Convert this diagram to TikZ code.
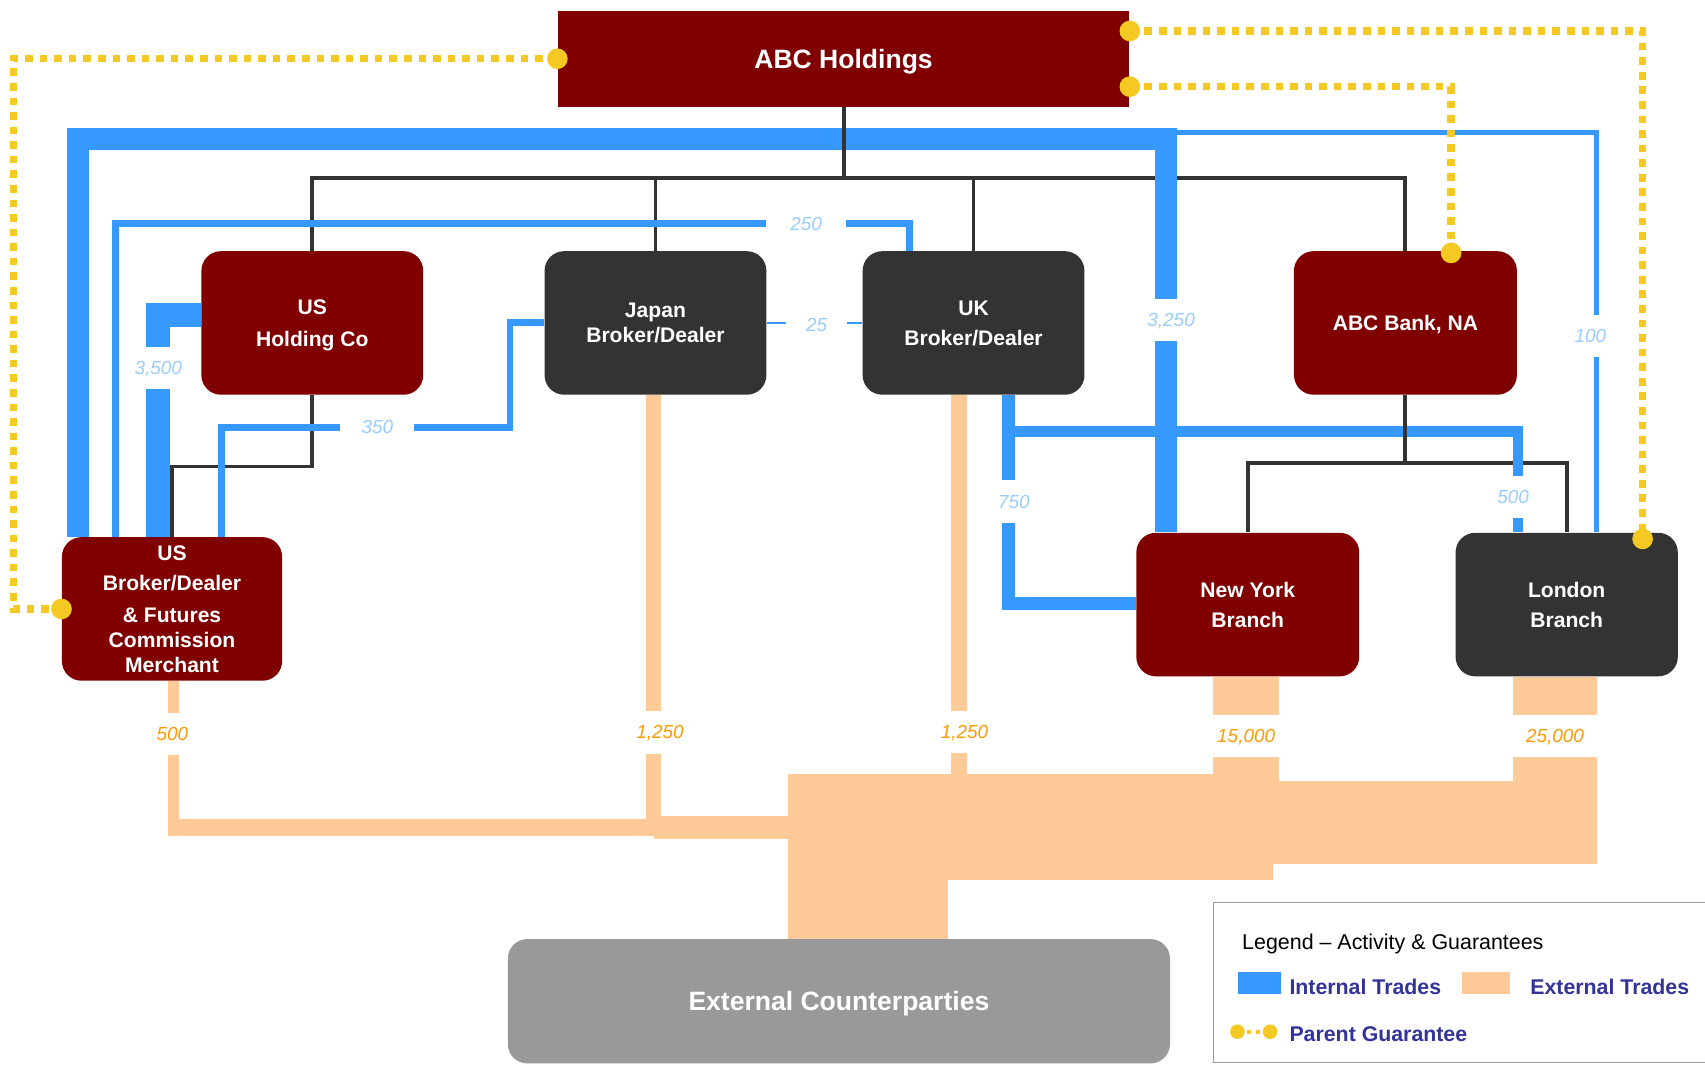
\documentclass[tikz,border=0pt]{standalone}
\usepackage{fontspec}
\setmainfont{Liberation Sans}
\usetikzlibrary{calc}
\pgfdeclarelayer{background}
\pgfsetlayers{background,main}

\definecolor{boxred}{RGB}{128,0,0}
\definecolor{boxgray}{RGB}{51,51,51}
\definecolor{extgray}{RGB}{153,153,153}
\definecolor{intblue}{RGB}{54,153,255}
\definecolor{extorange}{RGB}{254,203,152}
\definecolor{guaryellow}{RGB}{245,201,36}
\definecolor{labblue}{RGB}{153,204,255}
\definecolor{laborange}{RGB}{255,153,0}
\definecolor{legendtext}{RGB}{51,51,153}
\definecolor{treegray}{RGB}{51,51,51}

\begin{document}
\begin{tikzpicture}[x=0.5pt,y=-0.5pt,
  entity/.style={rounded corners=9pt, minimum width=102pt, minimum height=66pt,
    inner sep=0pt, align=center, text=white, text depth=0pt,
    font=\bfseries\fontsize{9.7}{11.5}\selectfont},
  redbox/.style={entity, fill=boxred},
  graybox/.style={entity, fill=boxgray},
  tree/.style={draw=treegray, line width=1.8pt},
  intl/.style={draw=intblue, line join=miter, line cap=butt},
  extl/.style={draw=extorange, line join=miter, line cap=butt},
  guar/.style={draw=guaryellow, line width=3.35pt, dash pattern=on 3.5pt off 3.2pt},
  gdot/.style={fill=guaryellow, circle, inner sep=0pt, minimum size=9.5pt},
  lab/.style={font=\itshape\fontsize{8.7}{10}\selectfont, fill=white, inner sep=0pt, text depth=0pt},
  labin/.style={lab, text=labblue},
  labex/.style={lab, text=laborange},
  vgap/.style={minimum height=19.5pt},
  legtxt/.style={anchor=base west, inner sep=0pt, text=legendtext,
    font=\bfseries\fontsize{9.8}{12}\selectfont},
]
\useasboundingbox (0,0) rectangle (1568,979);

% ---- entities ----
\node[redbox, minimum width=262.85pt, minimum height=44pt, rounded corners=0pt,
      font=\bfseries\fontsize{12.2}{14}\selectfont] (hold) at (775.8,54) {ABC Holdings};
\node[redbox] (ushc) at (287.2,297) {US\\[3pt]Holding Co};
\node[graybox] (jpbd) at (602.8,297) {Japan\\Broker/Dealer};
\node[graybox] (ukbd) at (895.3,297) {UK\\[2.3pt]Broker/Dealer};
\node[redbox, minimum width=102.5pt] (bank) at (1292.5,297) {ABC Bank, NA};
\node[redbox, minimum width=101.25pt] (usbd) at (158.2,560)
  {US\\[2.3pt]Broker/Dealer\\[3.1pt]\& Futures\\Commission\\Merchant};
\node[redbox, minimum width=102.5pt] (nyb) at (1147.5,556) {New York\\[2.4pt]Branch};
\node[graybox, minimum width=102.2pt] (ldn) at (1440.8,556) {London\\[2.2pt]Branch};
\node[entity, fill=extgray, minimum width=304.5pt, minimum height=57.2pt,
      font=\bfseries\fontsize{12.2}{14}\selectfont] (ext) at (771.5,920.8) {External Counterparties};

% guarantee end points
\coordinate (gHL) at (hold.west);
\coordinate (gHT) at (hold.east |- 0,28.5);
\coordinate (gHB) at (hold.east |- 0,79.7);
\coordinate (gUS) at (usbd.west);
\coordinate (gBK) at ($(bank.north -| 1334.5,0)+(0,2)$);
\coordinate (gLD) at ($(ldn.north -| 1510.6,0)+(0,6)$);

\begin{pgfonlayer}{background}
% ---- ownership tree ----
\coordinate (tbar) at (775.8,164);
\draw[tree] (ushc.north) |- (tbar) -| (bank.north);
\draw[tree] (jpbd.north) -- (jpbd.north |- tbar);
\draw[tree] (ukbd.north) -- (ukbd.north |- tbar);
\draw[tree] (ushc.south) -- ++(0,65.6) -| (usbd.north);
\coordinate (bbar) at (1292.5,426);
\draw[tree] (nyb.north) |- (bbar) -| (ldn.north);

% ---- internal trades ----
\draw[intl, line width=2.5pt] (72,0 |- usbd.north) -- (72,122) -- (1468,122) -- (1468,0 |- ldn.north);
\draw[intl, line width=10pt] (72,0 |- usbd.north) -- (72,128) -- (1072.3,128) -- (1072.3,0 |- nyb.north);
\draw[intl, line width=3.2pt] (106,0 |- usbd.north) -- (106,205.5) -- (836.5,205.5) -- (836.5,0 |- ukbd.north);
\draw[intl, line width=11pt] (145.3,0 |- usbd.north) -- (145.3,289.5) -- (ushc.west |- 0,289.5);
\draw[intl, line width=3.2pt] (203.5,0 |- usbd.north) -- (203.5,393) -- (469,393) -- (469,296.5) -- (jpbd.west |- 0,296.5);
\draw[intl, line width=1.25pt] (jpbd.east) -- (ukbd.west);
\draw[intl, line width=5pt] (927.5,0 |- ukbd.south) -- (927.5,397) -- (1396,397) -- (1396,0 |- ldn.north);
\draw[intl, line width=6pt] (927.5,0 |- ukbd.south) -- (927.5,555) -- (nyb.west |- 0,555);

% trunks drawn over the trade lines
\draw[tree] (hold.south) -- (tbar);
\draw[tree] (bank.south) -- (bbar);

% ---- external trades ----
\draw[extl, line width=5pt] (159.5,0 |- usbd.south) -- (159.5,761);
\draw[extl, line width=8pt] (154.5,761) -- (608,761);
\draw[extl, line width=7.2pt] (601,0 |- jpbd.south) -- (601,761);
\draw[extl, line width=11pt] (601,761) -- (724.5,761);
\draw[extl, line width=7.2pt] (881.7,0 |- ukbd.south) -- (881.7,712);
\draw[extl, line width=30.2pt] (nyb.south -| 1145.8,0) -- (1145.8,718);
\draw[extl, line width=38.7pt] (ldn.south -| 1430.3,0) -- (1430.3,746);
\fill[extorange] (724.5,712) rectangle (1171,809);
\fill[extorange] (1171,718) rectangle (1469,795);
\fill[extorange] (724.5,712) rectangle (872,0 |- ext.north);

% ---- parent guarantees ----
\draw[guar] (gHL) -- (12.3,0 |- gHL) |- (gUS);
\draw[guar] (gHT) -| (gLD);
\draw[guar] (gHB) -| (gBK);
\end{pgfonlayer}

\foreach \p in {gHL,gHT,gHB,gUS,gBK,gLD} \node[gdot] at (\p) {};

% ---- volume labels ----
\node[labin, vgap] (l3250) at (1077,294.5) {3,250};
\node[labin, vgap] (l100) at (1462.5,309) {100};
\node[labin, minimum width=36.7pt] (l250) at (741.3,206) {250};
\node[labin, vgap] (l3500) at (145.6,338.5) {3,500};
\node[labin, minimum width=34pt] (l350) at (347,393) {350};
\node[labin, minimum width=28pt] (l25) at (751,299) {25};
\node[labin, vgap] (l750) at (932.5,461.3) {750};
\node[labin, vgap] (l500b) at (1391.6,457) {500};
\node[labex, vgap] (l500o) at (158.5,675) {500};
\node[labex, vgap] (l1250j) at (607,673.5) {1,250};
\node[labex, vgap] (l1250u) at (887,673) {1,250};
\node[labex, vgap, minimum width=32pt] (l15000) at (1146,677) {15,000};
\node[labex, vgap, minimum width=40.5pt] (l25000) at (1430,677) {25,000};

% ---- legend ----
\draw[draw=extgray, line width=0.8pt] (1116,830) rectangle (1600,977);
\node[anchor=base west, inner sep=0pt, font=\fontsize{9.85}{12}\selectfont] (legtitle)
  at (1142,873) {Legend – Activity \& Guarantees};
\fill[intblue] (1138.6,894) rectangle (1178,914);
\node[legtxt] (legint) at (1185.5,914.5) {Internal Trades};
\fill[extorange] (1344.7,894) rectangle (1388.6,914);
\node[legtxt] (legext) at (1407,914.5) {External Trades};
\draw[guar, line width=1.9pt, dash pattern=on 1.9pt off 2.4pt] (1138,948.8) -- (1168,948.8);
\node[gdot, minimum size=6.7pt] (legdotA) at (1138,948.8) {};
\node[gdot, minimum size=6.7pt] (legdotB) at (1168,948.8) {};
\node[legtxt] (legguar) at (1185.5,958) {Parent Guarantee};
\end{tikzpicture}
\end{document}
